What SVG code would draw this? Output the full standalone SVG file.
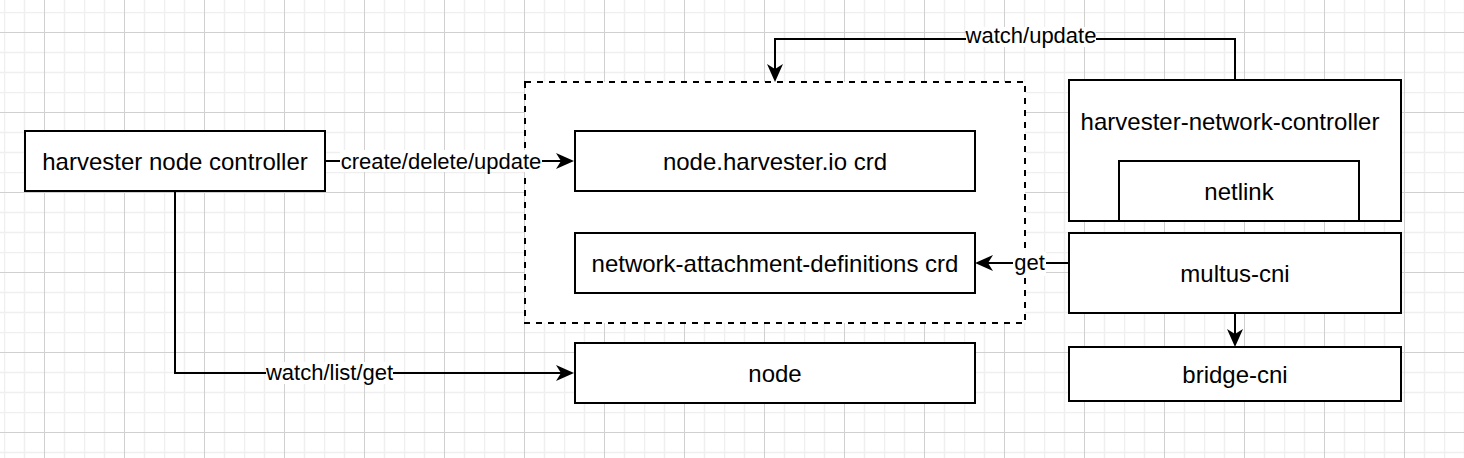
<svg xmlns="http://www.w3.org/2000/svg" width="1464" height="458" viewBox="0 0 1464 458">
<style>
.box{fill:#ffffff;stroke:#000000;stroke-width:2}
.dash{fill:#ffffff;stroke:#000000;stroke-width:2;stroke-dasharray:6 6}
.lbl{font-family:"Liberation Sans",Arial,Helvetica,sans-serif;font-size:24px;fill:#000000;text-anchor:middle}
.elbl{font-family:"Liberation Sans",Arial,Helvetica,sans-serif;font-size:22px;fill:#000000;text-anchor:middle}
.edge{fill:none;stroke:#000000;stroke-width:2;marker-end:url(#arr)}
.lbg{fill:#ffffff}
</style>
<defs>
<pattern id="grid" x="4" y="12" width="80" height="80" patternUnits="userSpaceOnUse">
<path d="M0.5,0V80M20.5,0V80M60.5,0V80M0,0.5H80M0,40.5H80M0,60.5H80" stroke="#efefef" stroke-width="1.5" fill="none"/>
<path d="M40.5,0V80M0,20.5H80" stroke="#d0d0d0" stroke-width="1" fill="none"/>
</pattern>
<marker id="arr" viewBox="-6 -9 20 18" refX="0" refY="0" markerWidth="20" markerHeight="18" markerUnits="userSpaceOnUse" orient="auto">
<path d="M13,0 L-5,-8 L0,0 L-5,8 Z" fill="#000000"/>
</marker>
</defs>
<rect x="0" y="0" width="1464" height="458" fill="#ffffff"/>
<rect x="0" y="0" width="1464" height="458" fill="url(#grid)"/>

<g id="crd-group">
<rect class="dash" x="525" y="82" width="500" height="241"/>
</g>

<g id="harvester-node-controller">
<rect class="box" x="25" y="131" width="300" height="60"/>
<text class="lbl" x="175" y="169.5">harvester node controller</text>
</g>

<g id="node-harvester-io-crd">
<rect class="box" x="575" y="131" width="400" height="60"/>
<text class="lbl" x="775" y="169.5">node.harvester.io crd</text>
</g>

<g id="network-attachment-definitions-crd">
<rect class="box" x="575" y="233" width="400" height="60"/>
<text class="lbl" x="775" y="271.5">network-attachment-definitions crd</text>
</g>

<g id="node">
<rect class="box" x="575" y="343" width="400" height="60"/>
<text class="lbl" x="775" y="381.5">node</text>
</g>

<g id="harvester-network-controller">
<rect class="box" x="1069" y="80" width="332" height="141"/>
<text class="lbl" x="1230" y="130">harvester-network-controller</text>
</g>

<g id="netlink">
<rect class="box" x="1119" y="161" width="240" height="60"/>
<text class="lbl" x="1239" y="199.5">netlink</text>
</g>

<g id="multus-cni">
<rect class="box" x="1069" y="233" width="332" height="80"/>
<text class="lbl" x="1235" y="281.5">multus-cni</text>
</g>

<g id="bridge-cni">
<rect class="box" x="1069" y="347" width="332" height="54"/>
<text class="lbl" x="1235" y="382.5">bridge-cni</text>
</g>

<g id="connectors">
<path class="edge" d="M325,161 H561"/>
<path class="edge" d="M175,191 V373 H561"/>
<path class="edge" d="M1235,80 V39 H775 V69"/>
<path class="edge" d="M1069,263 H988"/>
<path class="edge" d="M1235,313 V334"/>
<rect class="lbg" x="340" y="150" width="202" height="22"/>
<text class="elbl" x="441" y="168.5">create/delete/update</text>
<rect class="lbg" x="266" y="362" width="127" height="22"/>
<text class="elbl" x="329.5" y="380">watch/list/get</text>
<rect class="lbg" x="966" y="27" width="130" height="20"/>
<text class="elbl" x="1031" y="43">watch/update</text>
<rect class="lbg" x="1013" y="252" width="33" height="24"/>
<text class="elbl" x="1029.5" y="269.5">get</text>
</g>
</svg>
